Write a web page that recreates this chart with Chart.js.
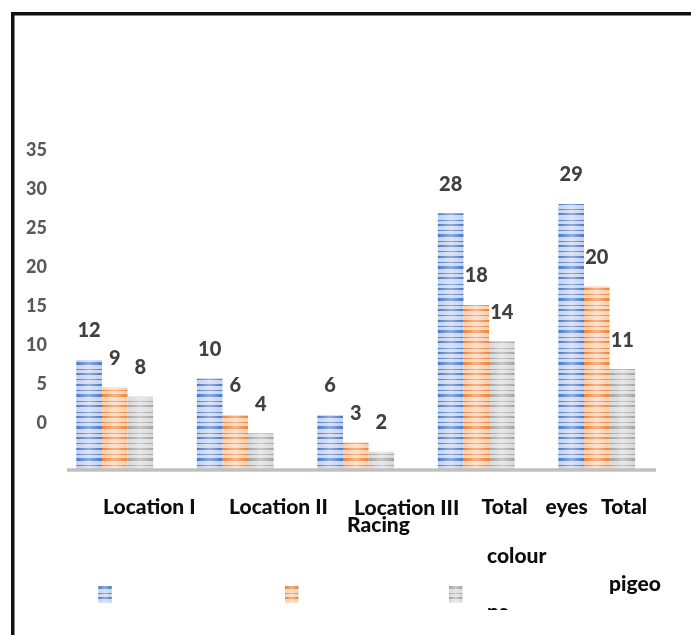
<!DOCTYPE html>
<html>
<head>
<meta charset="utf-8">
<script src="https://cdn.jsdelivr.net/npm/chart.js@4.4.1/dist/chart.umd.min.js"></script>
<style>
  html, body { margin: 0; padding: 0; background: #ffffff; }
  #wrap { width: 691px; height: 635px; position: relative; }
</style>
</head>
<body>
<div id="wrap"><canvas id="chart" width="691" height="635"></canvas></div>
<script>
// ---- data -------------------------------------------------------------
const categories = ['Location I', 'Location II', 'Location III', 'Total Racing pigeons', 'Total colour eyes'];
const blueValues = [12, 10, 6, 28, 29];
const orangeValues = [9, 6, 3, 18, 20];
const greyValues = [8, 4, 2, 14, 11];
const yTickValues = [0, 5, 10, 15, 20, 25, 30, 35];

// ---- striped fills ---------------------------------------------------
const STRIPES = [[0, 2], [6, 1], [10, 3], [17, 1], [21, 2], [28, 1], [32, 2], [38, 1], [42, 3], [49, 1], [53, 2], [59, 1]];
function stripedFill(base, stripe) {
  const c = document.createElement('canvas');
  c.width = 4; c.height = 64;
  const g = c.getContext('2d');
  g.fillStyle = base;
  g.fillRect(0, 0, c.width, c.height);
  g.fillStyle = stripe;
  STRIPES.forEach(([y, h]) => g.fillRect(0, y, c.width, h));
  return g.createPattern(c, 'repeat');
}
const ctx = document.getElementById('chart').getContext('2d');
const fills = [
  stripedFill('#c2d2ef', 'rgba(68,114,196,0.95)'),
  stripedFill('#f9cfae', 'rgba(237,125,49,0.95)'),
  stripedFill('#d9d9d9', 'rgba(160,160,160,0.95)')
];

function shadeBox(g, left, top, w, h) {
  const grad = g.createLinearGradient(left, 0, left + w, 0);
  grad.addColorStop(0, 'rgba(255,255,255,0)');
  grad.addColorStop(0.5, 'rgba(255,255,255,0.4)');
  grad.addColorStop(1, 'rgba(255,255,255,0)');
  g.fillStyle = grad;
  g.fillRect(left, top, w, h);
}

const LABEL_FONT = '900 21px Lato';

// ---- plugins ---------------------------------------------------------
const frame = {
  id: 'frame',
  beforeDraw(chart) {
    const g = chart.ctx;
    g.save();
    g.fillStyle = '#ffffff';
    g.fillRect(0, 0, chart.width, chart.height);
    g.restore();
  },
  afterDraw(chart) {
    const g = chart.ctx;
    g.save();
    g.fillStyle = '#111111';
    g.fillRect(11, 12, chart.width - 11, 3.5);
    g.fillRect(11, 12, 3.5, chart.height - 12);
    g.restore();
  }
};

const barDecor = {
  id: 'barDecor',
  afterDatasetsDraw(chart) {
    const g = chart.ctx;
    const yScale = chart.scales.y;
    g.save();
    // soft vertical highlight on every bar
    chart.data.datasets.forEach((ds, i) => {
      chart.getDatasetMeta(i).data.forEach(bar => {
        const w = bar.width;
        shadeBox(g, bar.x - w / 2, bar.y, w, bar.base - bar.y);
      });
    });
    // baseline
    const y0 = yScale.getPixelForValue(0);
    g.fillStyle = '#bfbfbf';
    g.fillRect(67, y0 - 1.7, 589, 3.4);
    // value labels
    g.fillStyle = '#404040';
    g.font = '900 20px Lato';
    g.textAlign = 'center';
    g.textBaseline = 'middle';
    chart.data.datasets.forEach((ds, i) => {
      chart.getDatasetMeta(i).data.forEach((bar, j) => {
        g.fillText(String(ds.data[j]), bar.x, bar.y - 29);
      });
    });
    g.restore();
  }
};

const axisText = {
  id: 'axisText',
  afterDraw(chart) {
    const g = chart.ctx;
    g.save();
    g.fillStyle = '#0d0d0d';
    g.font = LABEL_FONT;
    g.textAlign = 'left';
    g.textBaseline = 'alphabetic';
    const pieces = [
      ['Location I', 103, 513.5],
      ['Location II', 229, 513.5],
      ['Location III', 354, 514.5],
      ['Racing', 347, 531.5],
      ['Total', 481.5, 513.5],
      ['eyes', 545.5, 513.5],
      ['Total', 601, 513.5],
      ['colour', 487, 563.3],
      ['pigeo', 609, 590.5]
    ];
    pieces.forEach(([t, x, y]) => g.fillText(t, x, y));
    g.beginPath();
    g.rect(480, 595, 100, 15);
    g.clip();
    g.fillText('ns', 487, 619);
    g.restore();

    // legend swatches
    const keys = [[98.3, 0], [285, 1], [449, 2]];
    g.save();
    keys.forEach(([x, i]) => {
      g.fillStyle = fills[i];
      g.fillRect(x, 586, 13.4, 16.7);
      shadeBox(g, x, 586, 13.4, 16.7);
    });
    g.restore();
  }
};

// ---- chart -----------------------------------------------------------
new Chart(ctx, {
  type: 'bar',
  data: {
    labels: categories,
    datasets: [
      { label: 'Blue', data: blueValues, backgroundColor: fills[0], yAxisID: 'y' },
      { label: 'Orange', data: orangeValues, backgroundColor: fills[1], yAxisID: 'y' },
      { label: 'Grey', data: greyValues, backgroundColor: fills[2], yAxisID: 'y' }
    ]
  },
  options: {
    responsive: false,
    animation: false,
    devicePixelRatio: 1,
    layout: { padding: { left: 0, right: 34, top: 149, bottom: 165 } },
    datasets: { bar: { categoryPercentage: 0.637, barPercentage: 1, borderWidth: 0 } },
    plugins: { legend: { display: false }, tooltip: { enabled: false } },
    scales: {
      x: { display: false, offset: true },
      y: { display: false, min: 0, max: 35 },
      yTicks: {
        position: 'left',
        min: -6,
        max: 35.17,
        grid: { display: false, drawTicks: false },
        border: { display: false },
        ticks: { padding: 7.5, color: '#595959', font: { family: 'Lato', weight: '900', size: 18 } },
        afterBuildTicks: s => { s.ticks = yTickValues.map(v => ({ value: v })); },
        afterFit: s => { s.width = 54.45; }
      }
    }
  },
  plugins: [frame, barDecor, axisText]
});
</script>
</body>
</html>
